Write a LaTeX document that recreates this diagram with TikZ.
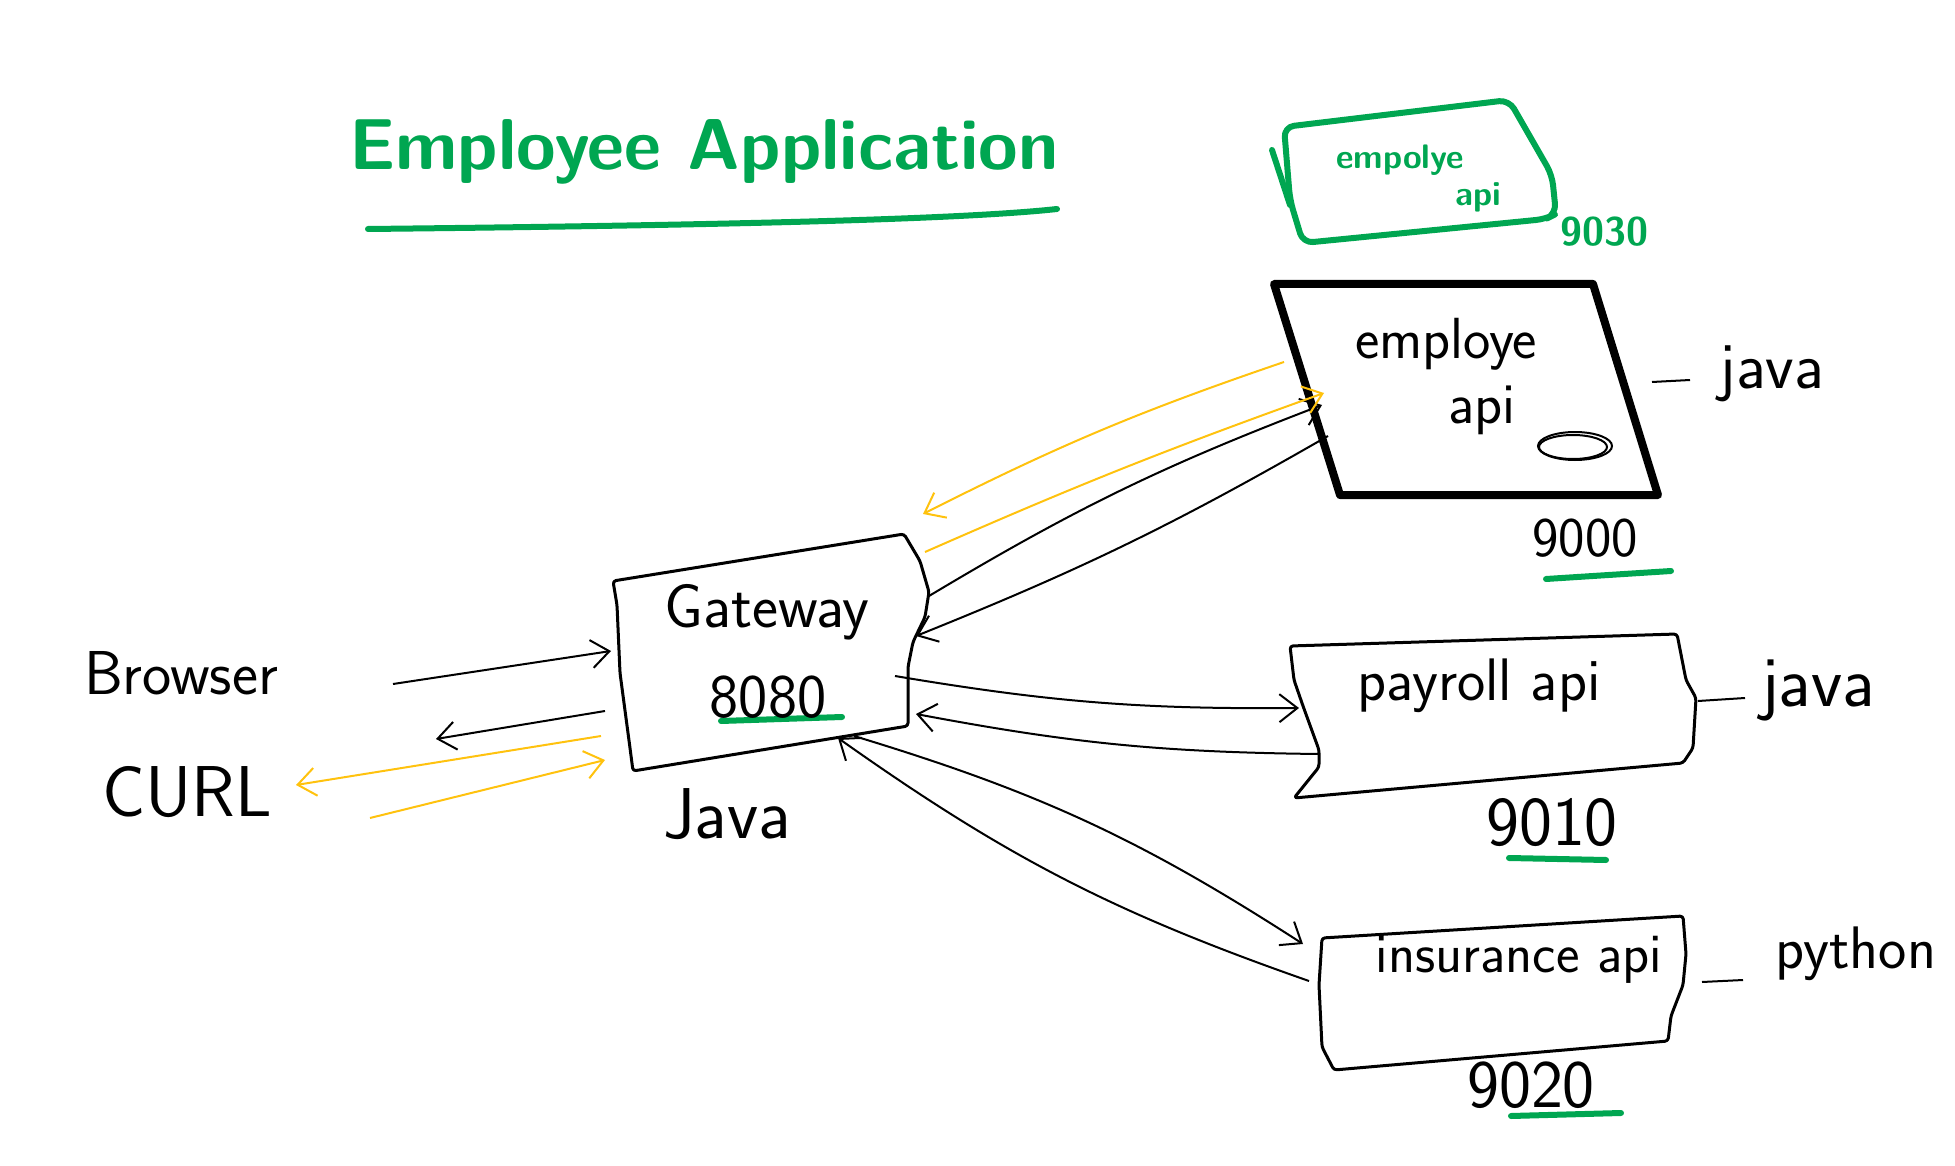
\documentclass[tikz,border=0pt]{standalone}
\usepackage{fontspec}
\usepackage{tikz}
\usetikzlibrary{arrows.meta}
\definecolor{penGreen}{HTML}{00A651}
\definecolor{penYellow}{HTML}{FFC20E}
\newcommand{\handsize}[1]{\fontsize{#1}{#1}\selectfont}

\begin{document}
\begin{tikzpicture}[x=1pt, y=-1pt,
	conn/.style={line width=2pt, -{Straight Barb[length=18pt, width=28pt]}},
	yconn/.style={conn, draw=penYellow},
	box/.style={line width=3pt, line join=round, rounded corners=3pt},
	portline/.style={penGreen, line width=6pt, line cap=round},
	handtext/.style={inner sep=0pt, font=\sffamily}]
	\useasboundingbox (0,0) rectangle (1955,1166);
	% title
	\node[handtext, text=penGreen, font=\sffamily\bfseries\handsize{72}] (title) at (704,152) {Employee Application};
	\draw [penGreen, line width=6pt, line cap=round] (368,229) .. controls (648,226) and (948,221) .. (1057,209);
	% boxes
	\draw [penGreen, line width=6pt, line join=round, rounded corners=10pt] (1284,127) -- (1509,100) -- (1552,175) -- (1556,214) -- (1546,219) -- (1303,243) -- (1290,200) -- cycle;
	\draw [penGreen, line width=6pt, line cap=round] (1272,150) -- (1290,205);
	\draw [line width=8pt, line join=round] (1274,284) -- (1593,284) -- (1658,495) -- (1340,495) -- cycle;
	\draw [line width=2pt] (1575,446) ellipse [x radius=37, y radius=14];
	\draw [line width=2pt] (1573,447) ellipse [x radius=34, y radius=12];
	\draw [box] (613,581) -- (904,534) -- (920,561) -- (929,592) -- (925,617) -- (913,642) -- (908,667) -- (908,726) -- (633,771) -- (630,748) -- (620,673) -- (617,605) -- cycle;
	\draw [box] (1290,646) -- (1677,634) -- (1686,680) -- (1696,698) -- (1693,748) -- (1683,763) -- (1294,798) -- (1319,767) -- (1319,750) -- (1303,706) -- (1294,680) -- cycle;
	\draw [box] (1322,938) -- (1683,916) -- (1686,954) -- (1683,985) -- (1671,1016) -- (1668,1041) -- (1334,1070) -- (1322,1047) -- (1319,985) -- cycle;
	% ends of the arrows
	\coordinate (brw-out) at (393,684);
	\coordinate (gw-in1) at (611,651);
	\coordinate (gw-out1) at (605,711);
	\coordinate (curl-in1) at (436,739);
	\coordinate (gw-out2) at (601,736);
	\coordinate (curl-in2) at (296,785);
	\coordinate (curl-out) at (370,818);
	\coordinate (gw-in2) at (605,760);
	\coordinate (gw-e1) at (929,596);
	\coordinate (emp-w1) at (1322,405);
	\coordinate (emp-w2) at (1328,436);
	\coordinate (gw-e2) at (916,636);
	\coordinate (gw-e3) at (925,552);
	\coordinate (emp-w3) at (1324,393);
	\coordinate (emp-w4) at (1284,362);
	\coordinate (gw-e4) at (923,514);
	\coordinate (gw-e5) at (895,676);
	\coordinate (pay-w1) at (1299,708);
	\coordinate (pay-w2) at (1319,754);
	\coordinate (gw-e6) at (916,714);
	\coordinate (gw-s1) at (854,736);
	\coordinate (ins-w1) at (1303,944);
	\coordinate (ins-w2) at (1309,981);
	\coordinate (gw-s2) at (838,738);
	% arrows
	\draw [conn] (brw-out) -- (gw-in1);
	\draw [conn] (gw-out1) -- (curl-in1);
	\draw [yconn] (gw-out2) -- (curl-in2);
	\draw [yconn] (curl-out) -- (gw-in2);
	\draw [conn] (gw-e1) to[bend left=5] (emp-w1);
	\draw [conn] (emp-w2) to[bend left=4] (gw-e2);
	\draw [yconn] (gw-e3) to[bend left=2] (emp-w3);
	\draw [yconn] (emp-w4) to[bend right=4] (gw-e4);
	\draw [conn] (gw-e5) to[bend right=5] (pay-w1);
	\draw [conn] (pay-w2) to[bend left=5] (gw-e6);
	\draw [conn] (gw-s1) to[bend left=8] (ins-w1);
	\draw [conn] (ins-w2) to[bend left=8] (gw-s2);
	% underlines of the ports
	\draw [portline] (721,721) -- (842,717);
	\draw [portline] (1546,579) -- (1671,571);
	\draw [portline] (1509,858) -- (1606,860);
	\draw [portline] (1511,1116) -- (1621,1113);
	% dashes to the languages
	\draw [line width=2pt] (1652,382) -- (1690,380);
	\draw [line width=2pt] (1698,701) -- (1745,698);
	\draw [line width=2pt] (1702,982) -- (1743,980);
	% labels
	\node[handtext, text=penGreen, font=\sffamily\bfseries\handsize{34}] (green-name) at (1400,160) {empolye};
	\node[handtext, text=penGreen, font=\sffamily\bfseries\handsize{34}] (green-api) at (1478,197) {api};
	\node[handtext, text=penGreen, font=\sffamily\bfseries\handsize{40}] (green-port) at (1604,232) {9030};
	\node[handtext, font=\sffamily\handsize{58}] (emp-name) at (1446,344) {employe};
	\node[handtext, font=\sffamily\handsize{58}] (emp-api) at (1482,410) {api};
	\node[handtext, font=\sffamily\handsize{56}] (emp-port) at (1585,538) {9000};
	\node[handtext, font=\sffamily\handsize{66}] (emp-lang) at (1772,374) {java};
	\node[handtext, font=\sffamily\handsize{62}] (gw-name) at (767,612) {Gateway};
	\node[handtext, font=\sffamily\handsize{62}] (gw-port) at (768,697) {8080};
	\node[handtext, font=\sffamily\handsize{72}] (gw-lang) at (727,814) {Java};
	\node[handtext, font=\sffamily\handsize{62}] (brw) at (181,673) {Browser};
	\node[handtext, font=\sffamily\handsize{72}] (curl) at (187,792) {CURL};
	\node[handtext, font=\sffamily\handsize{60}] (pay-name) at (1479,686) {payroll api};
	\node[handtext, font=\sffamily\handsize{70}] (pay-port) at (1552,823) {9010};
	\node[handtext, font=\sffamily\handsize{72}] (pay-lang) at (1818,690) {java};
	\node[handtext, font=\sffamily\handsize{56}] (ins-name) at (1519,960) {insurance api};
	\node[handtext, font=\sffamily\handsize{68}] (ins-port) at (1531,1085) {9020};
	\node[handtext, font=\sffamily\handsize{60}] (ins-lang) at (1856,954) {python};
\end{tikzpicture}
\end{document}
